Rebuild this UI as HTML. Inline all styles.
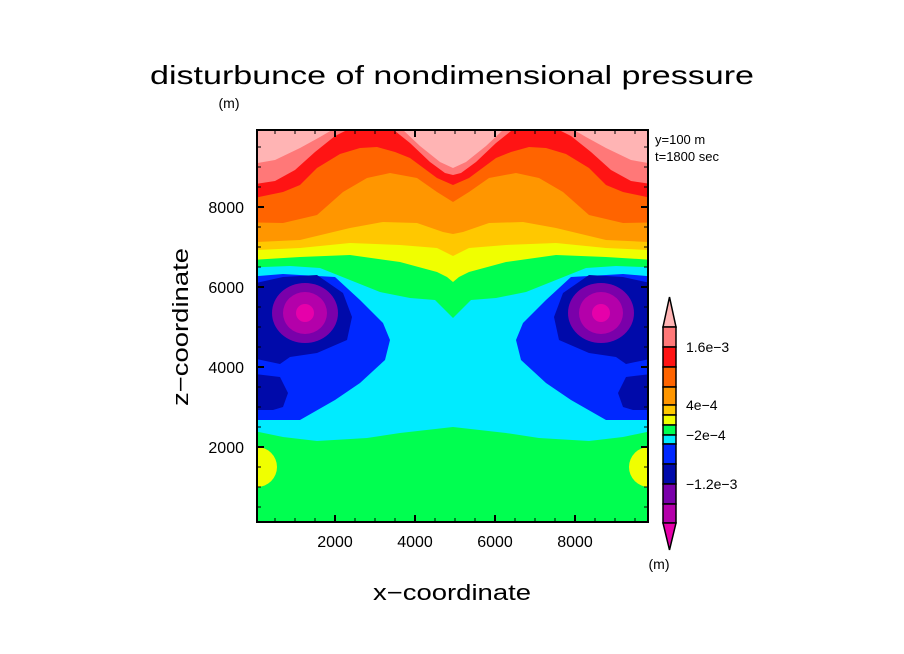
<!DOCTYPE html>
<html><head><meta charset="utf-8">
<style>
html,body{margin:0;padding:0;background:#fff;}
svg{display:block;font-family:"Liberation Sans",sans-serif;}
</style></head>
<body>
<svg id="chart" width="904" height="654" viewBox="0 0 904 654" xmlns="http://www.w3.org/2000/svg">
<defs><clipPath id="plotclip"><rect x="257" y="130" width="391" height="392"/></clipPath></defs>
<text x="452" y="84" text-anchor="middle" font-size="26" textLength="604" lengthAdjust="spacingAndGlyphs">disturbunce of nondimensional pressure</text>
<text x="229" y="108" text-anchor="middle" font-size="14">(m)</text>
<text x="655" y="144" font-size="13">y=100 m</text>
<text x="655" y="161" font-size="13">t=1800 sec</text>
<g id="field" clip-path="url(#plotclip)"></g>
<g id="axes"></g>
<g id="cbar"></g>
<text x="452" y="600" text-anchor="middle" font-size="22" textLength="158" lengthAdjust="spacingAndGlyphs">x−coordinate</text>
<text transform="translate(188,327) rotate(-90)" text-anchor="middle" font-size="22" textLength="158" lengthAdjust="spacingAndGlyphs">z−coordinate</text>
<text x="659" y="569" text-anchor="middle" font-size="14">(m)</text>
</svg>
<script>
const xTicks = [2000, 4000, 6000, 8000];
const zTicks = [2000, 4000, 6000, 8000];
const pinkTop = [[50,9000],[500,9175],[1125,9475],[1625,9750],[1925,9925],[3700,9925],[4125,9525],[4625,9125],[4950,8975]];
const redTop = [[50,8500],[500,8650],[1000,8925],[1500,9375],[2000,9775],[2250,9900],[3500,9900],[3875,9600],[4375,9125],[4750,8850],[4950,8800]];
const darkOrangeTop = [[50,8125],[700,8375],[1125,8550],[1550,8975],[2125,9325],[2625,9475],[3050,9500],[3500,9375],[3875,9225],[4550,8725],[4950,8550]];
const orangeTop = [[50,7625],[700,7600],[1550,7800],[2200,8375],[2800,8725],[3375,8850],[4050,8725],[4550,8375],[4950,8125]];
const goldTop = [[50,7100],[1125,7175],[2375,7475],[3200,7625],[4050,7600],[4700,7375],[4950,7325]];
const yellowTop = [[50,6900],[1125,6975],[2375,7100],[3625,7050],[4550,6975],[4800,6850],[4950,6775]];
const greenTop = [[50,6650],[1125,6750],[2375,6800],[3625,6625],[4550,6375],[4800,6250],[4950,6125]];
const cyanTop = [[50,6475],[875,6525],[1625,6475],[2375,6175],[3125,5875],[3875,5725],[4500,5675],[4700,5475],[4950,5225]];
const cyanBottom = [[50,2500],[700,2250],[1550,2150],[2800,2225],[3625,2350],[4950,2500]];
const blueBlob = [[-200,6250],[700,6325],[1125,6300],[2000,6250],[2625,5675],[3200,5100],[3375,4675],[3250,4175],[2625,3600],[2000,3175],[1125,2675],[-200,2675]];
const darkBlueUpper = [[-200,6050],[700,6250],[1550,6300],[2200,5850],[2425,5250],[2300,4675],[1550,4350],[875,4250],[625,4075],[-200,4250]];
const darkBlueLower = [[-200,3850],[625,3750],[825,3350],[700,3000],[450,2925],[-200,2925]];
const lowCentre = [1250, 5350];
const lowRings = [[825,750],[550,525],[225,225]];
const lowRingColors = ['#7a00aa','#b400aa','#e600aa'];
const yellowBlob = [[50,1500],[500,500]];
const cbColors = ['#ffb4b4','#ff7878','#ff1414','#ff6400','#ff9600','#ffc800','#f0ff00','#00ff50','#00ebff','#0028ff','#000aaa','#7a00aa','#b400aa','#e600aa'];
const cbLabels = ['1.6e-3','4e-4','-2e-4','-1.2e-3'];
const cbLabelIdx = [1,4,7,10];

const X = m => 255 + m/25;
const Z = m => 527 - m/25;
const MID = 9900;
const NS = 'http://www.w3.org/2000/svg';
const field = document.getElementById('field');
const axes = document.getElementById('axes');
const cbar = document.getElementById('cbar');
function mk(tag, attrs, parent){const e=document.createElementNS(NS,tag);for(const k in attrs)e.setAttribute(k,attrs[k]);parent.appendChild(e);return e;}
function fullCurve(h){const r=h.map(p=>p.slice());for(let i=h.length-2;i>=0;i--)r.push([MID-h[i][0],h[i][1]]);return r;}
function ptsStr(a){return a.map(p=>X(p[0]).toFixed(1)+','+Z(p[1]).toFixed(1)).join(' ');}

const base = mk('rect',{x:257,y:130,width:391,height:392,fill:'#00ff50'},field);



const bands = [[cyanBottom,'#00ebff','band-cyan'],[cyanTop,'#00ff50','band-green'],[greenTop,'#f0ff00','band-yellow'],[yellowTop,'#ffc800','band-gold'],[goldTop,'#ff9600','band-orange'],[orangeTop,'#ff6400','band-dark-orange'],[darkOrangeTop,'#ff1414','band-red'],[redTop,'#ff7878','band-salmon'],[pinkTop,'#ffb4b4','band-pink']];
bands.forEach(b=>{
  const c = fullCurve(b[0]);
  c[0][0] = -500; c[c.length-1][0] = MID+500;
  c.push([MID+500,10500]); c.push([-500,10500]);
  const p = mk('polygon',{points:ptsStr(c),fill:b[1]},field);
  
  
});
const blobs = [[blueBlob,'#0028ff','blob-blue'],[darkBlueUpper,'#000aaa','blob-dark-blue-upper'],[darkBlueLower,'#000aaa','blob-dark-blue-lower']];
blobs.forEach(b=>{
  [b[0], b[0].map(p=>[MID-p[0],p[1]])].forEach((arr,side)=>{
    const p = mk('polygon',{points:ptsStr(arr),fill:b[1]},field);
    
    
  });
});
[lowCentre[0], MID-lowCentre[0]].forEach((cx,side)=>{
  lowRings.forEach((r,i)=>{
    const e = mk('ellipse',{cx:X(cx),cy:Z(lowCentre[1]),rx:r[0]/25,ry:r[1]/25,fill:lowRingColors[i]},field);
    
    
  });
});
[yellowBlob[0][0], MID-yellowBlob[0][0]].forEach((cx,side)=>{
  const e = mk('ellipse',{cx:X(cx),cy:Z(yellowBlob[0][1]),rx:yellowBlob[1][0]/25,ry:yellowBlob[1][1]/25,fill:'#f0ff00'},field);
  
  
});

const frame = mk('rect',{x:257,y:130,width:391,height:392,fill:'none',stroke:'#000','stroke-width':2},axes);


for(let v=500; v<9900; v+=500){
  const major = v%2000===0, L = major?7:4;
  const tx = mk('path',{d:`M${X(v)},522v${-L}M${X(v)},130v${L}`,stroke:'#000','stroke-width':major?2:1},axes);
  
  
  const tz = mk('path',{d:`M257,${Z(v)}h${L}M648,${Z(v)}h${-L}`,stroke:'#000','stroke-width':major?2:1},axes);
  
  
}
xTicks.forEach(v=>{
  const t = mk('text',{x:X(v),y:547,'text-anchor':'middle','font-size':16},axes);
  t.textContent = v;
  
  
});
zTicks.forEach(v=>{
  const t = mk('text',{x:244,y:Z(v)+6,'text-anchor':'end','font-size':16},axes);
  t.textContent = v;
  
  
});

const cbEdges = [327,347,367,387,405,415,425,435,444,464,484,504,523];
const cbTopArrow = mk('polygon',{points:'663,327 676,327 669.5,297',fill:cbColors[0],stroke:'#000','stroke-width':1.5},cbar);


for(let i=0;i<cbEdges.length-1;i++){
  const r = mk('rect',{x:663,y:cbEdges[i],width:13,height:cbEdges[i+1]-cbEdges[i],fill:cbColors[i+1],stroke:'#000','stroke-width':1.5},cbar);
  
  
}
const cbBotArrow = mk('polygon',{points:'663,523 676,523 669.5,550',fill:cbColors[13],stroke:'#000','stroke-width':1.5},cbar);


cbLabels.forEach((s,i)=>{
  const t = mk('text',{x:686,y:cbEdges[cbLabelIdx[i]]+5,'font-size':14},cbar);
  t.textContent = s.replace(/-/g,'−');
  
  
});
</script>
</body></html>
